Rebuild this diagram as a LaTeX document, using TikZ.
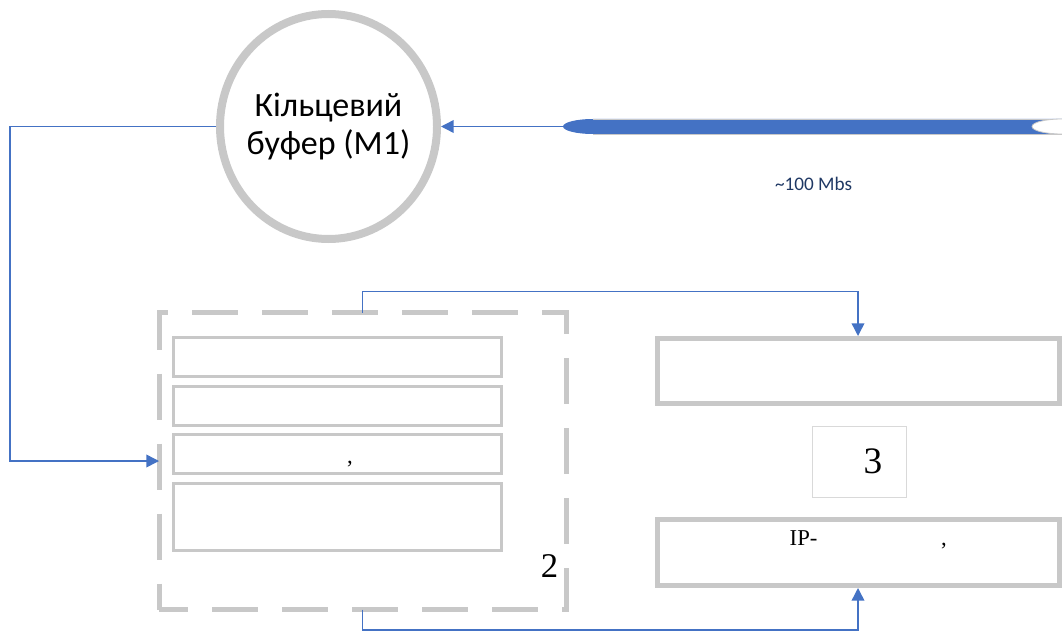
\documentclass[tikz,border=0pt]{standalone}
\usepackage{fontspec}
\setmainfont{Liberation Serif}
\newfontfamily\bodyfont{Carlito}
\usetikzlibrary{arrows.meta,shapes.geometric}
\definecolor{linkblue}{HTML}{4472C4}
\definecolor{framegray}{HTML}{C8C8C8}
\definecolor{thingray}{HTML}{D9D9D9}
\definecolor{labelnavy}{HTML}{1F3864}

\begin{document}
\begin{tikzpicture}[x=0.75pt,y=-0.75pt,
	link/.style={linkblue,line width=1.1pt,-{Triangle[length=9.5pt,width=9.5pt]}},
	slot/.style={draw=framegray,line width=2.25pt,minimum width=246pt,inner sep=0pt},
	wide/.style={draw=framegray,line width=3.75pt,minimum width=301.5pt,inner sep=0pt},
	serif/.style={font=\fontsize{17}{20}\selectfont}]
	\useasboundingbox (0,0) rectangle (1062,631);

	% ring buffer
	\node[ellipse,draw=framegray,line width=6pt,minimum width=162.75pt,minimum height=168.75pt,
		inner sep=-6pt,align=center,font=\bodyfont\fontsize{25.5}{29}\selectfont] (buf) at (328.5,126.5) {Кільцевий\\буфер (М1)};

	% incoming line
	\fill[linkblue] (593,119) -- (1100,119) -- (1100,134) -- (593,134) arc[start angle=270,end angle=90,x radius=22.5pt,y radius=5.625pt] -- cycle;
	\draw[framegray,line width=0.6pt] (593,119) -- (1100,119) (593,134) -- (1100,134);
	\filldraw[fill=white,draw=framegray,line width=0.6pt] (1062,126.5) ellipse[x radius=22.5pt,y radius=5.625pt];
	\coordinate (fibtip) at (563,126.5);
	\node[font=\bodyfont\fontsize{14.4}{17}\selectfont,text=labelnavy] (rate) at (813.5,184) {\textasciitilde100 Mbs};

	% block 2
	\node[draw=framegray,line width=3.75pt,dash pattern=on 34.5pt off 18pt,dash phase=12.75pt,
		minimum width=305.6pt,minimum height=222.75pt,outer sep=0pt] (frame2) at (362.75,461) {};
	\node[slot,minimum height=29.25pt] (s1) at (337.5,357) {};
	\node[slot,minimum height=29.25pt] (s2) at (337.5,406) {};
	\node[slot,minimum height=29.25pt] (s3) at (337.5,454) {};
	\node[slot,minimum height=50.25pt] (s4) at (337.5,517) {};
	\node[serif,anchor=base] (c1) at (350,463) {,};
	\node[font=\fontsize{26}{30}\selectfont] (n2) at (549.5,566) {2};

	% block 3
	\node[wide,minimum height=48.75pt] (r1) at (858,371) {};
	\node[draw=thingray,line width=0.75pt,minimum width=70.5pt,minimum height=53.25pt] (b3) at (859,461.5) {};
	\node[font=\fontsize{28}{32}\selectfont] (n3) at (873,461) {3};
	\node[wide,minimum height=49.5pt] (r2) at (858,552.5) {};
	\node[serif,anchor=base west] (ip) at (785,545) {IP-};
	\node[serif,anchor=base] (c2) at (944,545) {,};

	% links
	\coordinate (bend) at (10,126.5);
	\draw[link] (fibtip) -- (buf.east);
	\draw[link] (buf.west) -- (bend) |- (frame2.west);
	\draw[link] (frame2.north) -- ++(0,-21) -| (r1.north);
	\draw[link] (frame2.south) -- ++(0,20.5) -| (r2.south);
\end{tikzpicture}
\end{document}
